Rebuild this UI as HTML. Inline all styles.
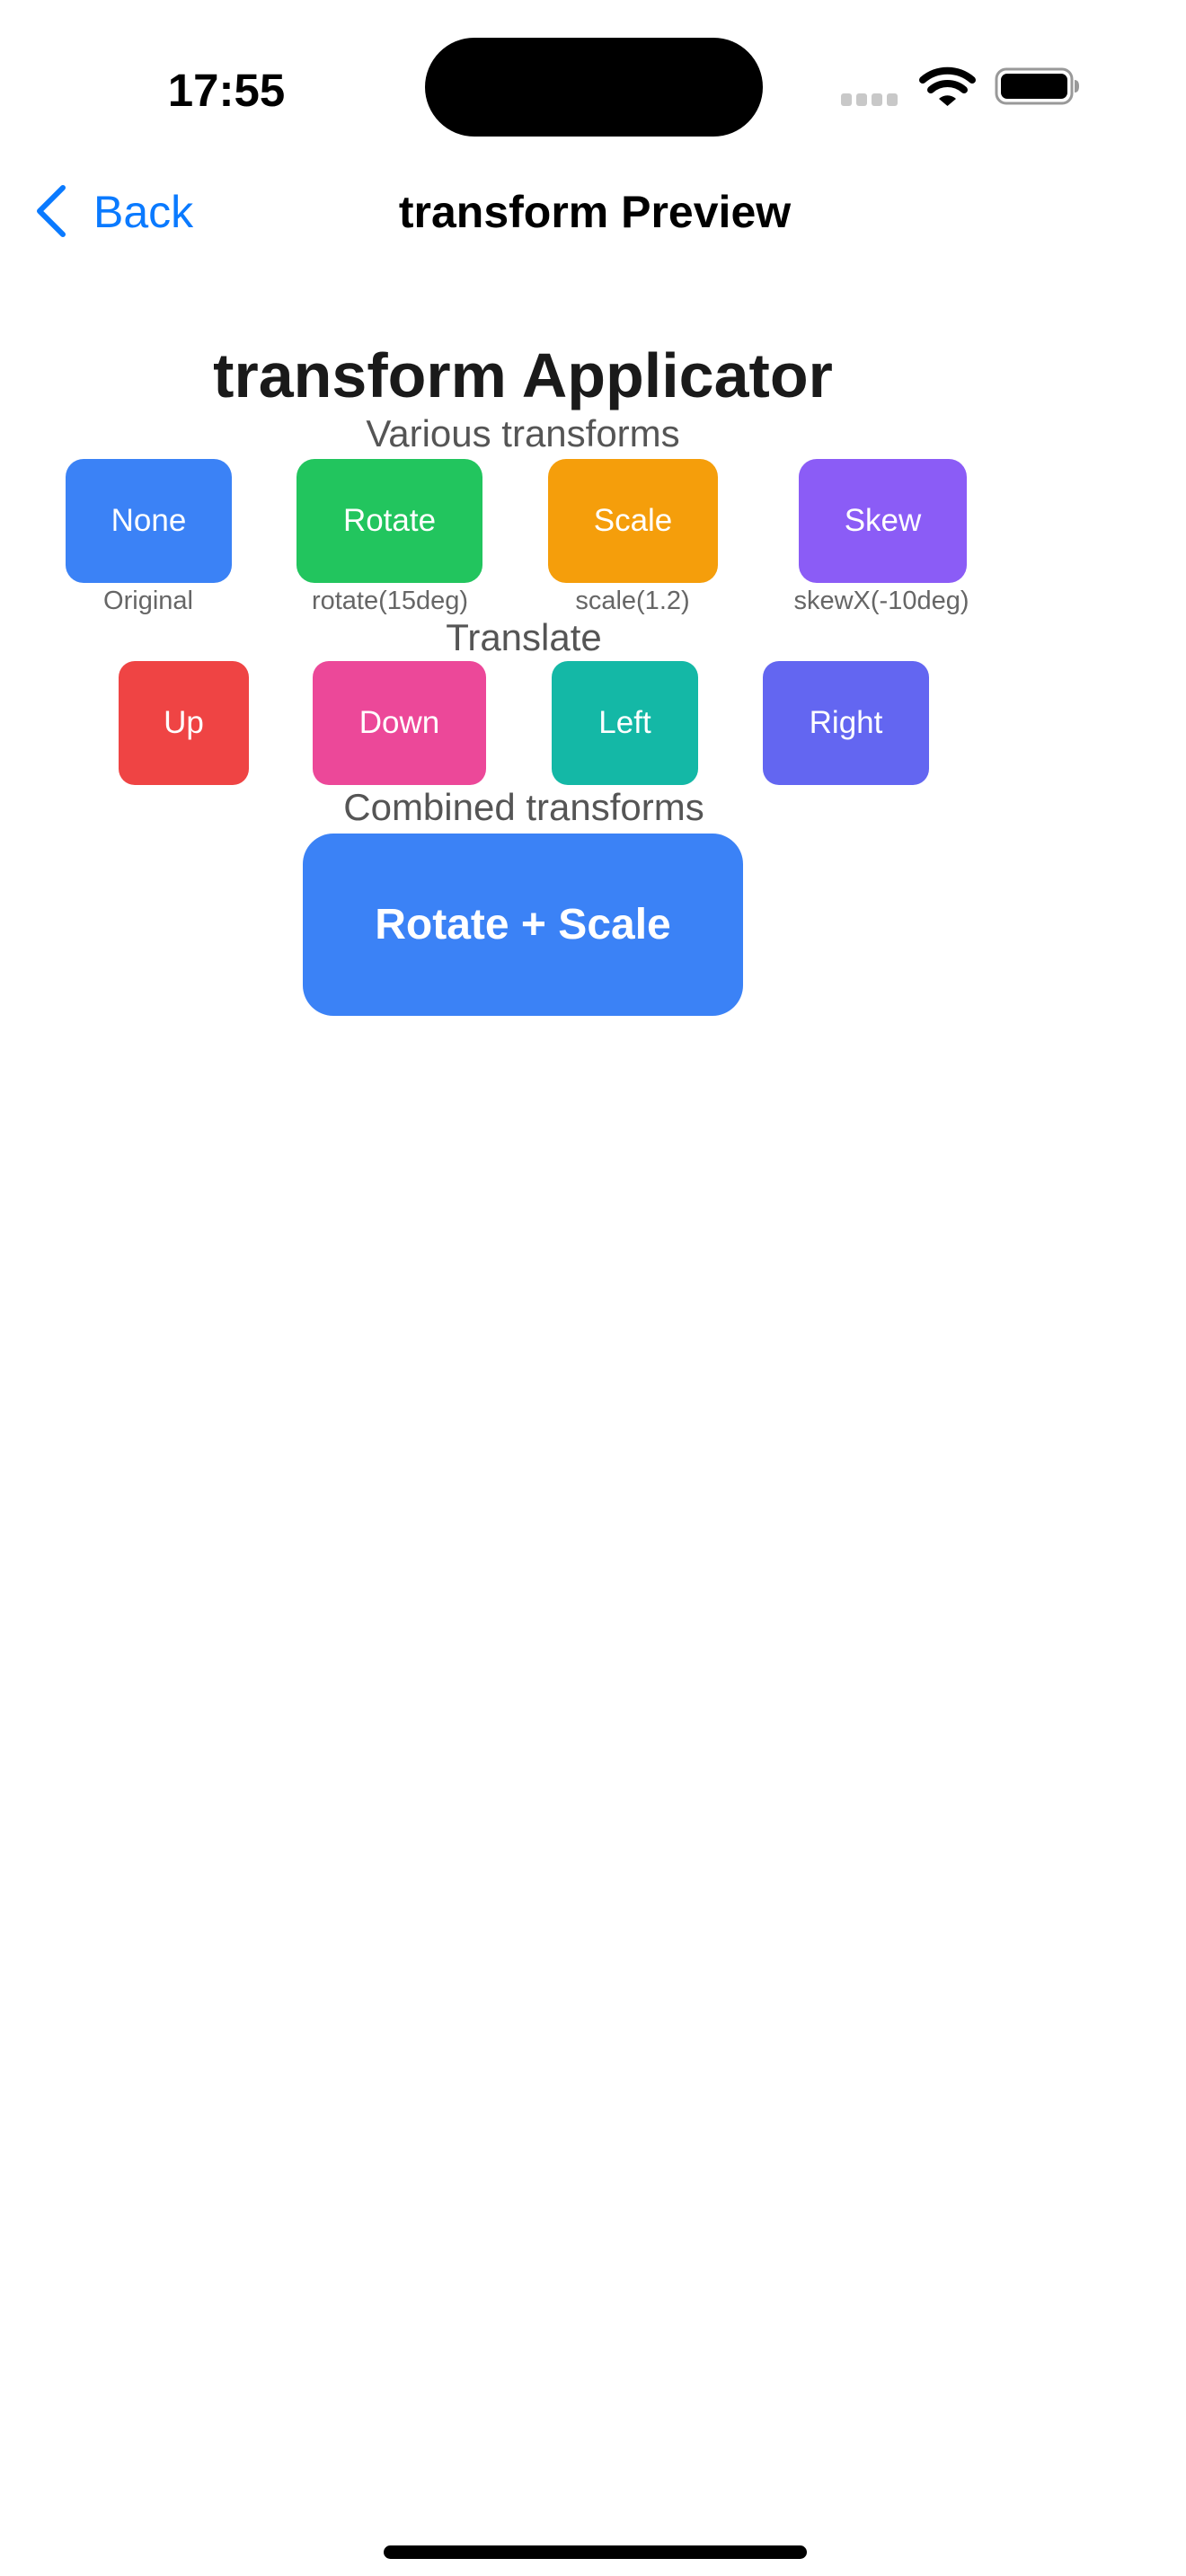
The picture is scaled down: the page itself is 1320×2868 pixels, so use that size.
<!DOCTYPE html>
<html><head><meta charset="utf-8"><style>
body{margin:0;width:1320px;height:2868px;background:#fff;position:relative;overflow:hidden;font-family:"Liberation Sans",sans-serif}
.a{position:absolute;white-space:nowrap}
.c{text-align:center}
.b{position:absolute;display:flex;align-items:center;justify-content:center;color:#fff;font-size:35px}
.sub{font-size:42px;color:#555;line-height:42px}
.cap{font-size:29px;color:#666;line-height:29px;width:300px}
</style></head><body>
<div class="a c" style="left:172px;top:75px;width:160px;font-size:51px;line-height:51px;font-weight:bold;color:#000">17:55</div>
<div class="a" style="left:473px;top:42px;width:376px;height:110px;border-radius:55px;background:#000"></div>
<svg class="a" style="left:927px;top:70px" width="290" height="55" viewBox="940 70 290 55">
<rect x="949" y="104" width="12" height="14" rx="3" fill="#c8c8c8"/>
<rect x="966" y="104" width="12" height="14" rx="3" fill="#c8c8c8"/>
<rect x="983" y="104" width="12" height="14" rx="3" fill="#c8c8c8"/>
<rect x="1000" y="104" width="12" height="14" rx="3" fill="#c8c8c8"/>
<path d="M1040 89 A42 42 0 0 1 1095 89" stroke="#000" stroke-width="8" fill="none" stroke-linecap="round"/>
<path d="M1049 100 A28 28 0 0 1 1086 100" stroke="#000" stroke-width="8" fill="none" stroke-linecap="round"/>
<path d="M1058 110 L1067.5 118 L1077 110 A14 14 0 0 0 1058 110Z" fill="#000"/>
<rect x="1122" y="77" width="84" height="38" rx="11" fill="none" stroke="#999" stroke-width="3"/>
<rect x="1127" y="82" width="74" height="28" rx="7" fill="#000"/>
<path d="M1209 89 q5 0 5 7 q0 7 -5 7z" fill="#999"/>
</svg>
<svg class="a" style="left:30px;top:200px" width="60" height="70"><polyline points="40,9 14,35 40,61" fill="none" stroke="#0a7aff" stroke-width="6" stroke-linecap="round" stroke-linejoin="round"/></svg>
<div class="a" style="left:104px;top:211px;font-size:50px;line-height:50px;color:#0a7aff">Back</div>
<div class="a c" style="left:362px;top:211px;width:600px;font-size:50px;line-height:50px;font-weight:bold;color:#000">transform Preview</div>
<div class="a c" style="left:182px;top:383px;width:800px;font-size:70px;line-height:70px;font-weight:bold;color:#1a1a1a">transform Applicator</div>
<div class="a c sub" style="left:282px;top:462px;width:600px">Various transforms</div>
<div class="b" style="left:73px;top:511px;width:185px;height:138px;border-radius:20px;background:#3b82f6">None</div>
<div class="b" style="left:330px;top:511px;width:207px;height:138px;border-radius:20px;background:#22c55e">Rotate</div>
<div class="b" style="left:610px;top:511px;width:189px;height:138px;border-radius:20px;background:#f59e0b">Scale</div>
<div class="b" style="left:889px;top:511px;width:187px;height:138px;border-radius:20px;background:#8b5cf6">Skew</div>
<div class="a c cap" style="left:15px;top:655px">Original</div>
<div class="a c cap" style="left:284px;top:655px">rotate(15deg)</div>
<div class="a c cap" style="left:554px;top:655px">scale(1.2)</div>
<div class="a c cap" style="left:831px;top:655px">skewX(-10deg)</div>
<div class="a c sub" style="left:283px;top:689px;width:600px">Translate</div>
<div class="b" style="left:132px;top:736px;width:145px;height:138px;border-radius:18px;background:#ef4444">Up</div>
<div class="b" style="left:348px;top:736px;width:193px;height:138px;border-radius:18px;background:#ec4899">Down</div>
<div class="b" style="left:614px;top:736px;width:163px;height:138px;border-radius:18px;background:#14b8a6">Left</div>
<div class="b" style="left:849px;top:736px;width:185px;height:138px;border-radius:18px;background:#6366f1">Right</div>
<div class="a c sub" style="left:283px;top:878px;width:600px">Combined transforms</div>
<div class="b" style="left:337px;top:928px;width:490px;height:203px;border-radius:34px;background:#3b82f6;font-size:48px;font-weight:bold">Rotate + Scale</div>
<div class="a" style="left:427px;top:2834px;width:471px;height:15px;border-radius:8px;background:#000"></div>
</body></html>
